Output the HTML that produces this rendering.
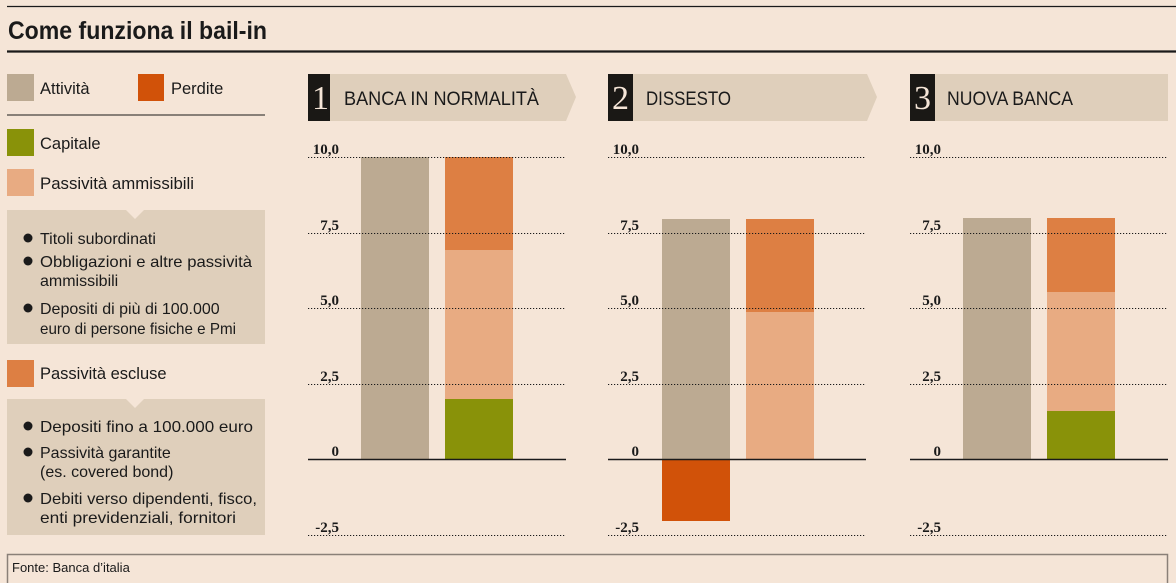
<!DOCTYPE html>
<html><head><meta charset="utf-8"><style>
html,body{margin:0;padding:0;background:#f5e5d7;}
svg{display:block;}
text{font-family:"Liberation Sans",sans-serif;fill:#1a1a1a;}
.num text{font-family:"Liberation Serif",serif;font-size:15px;font-weight:bold;}
text.big{font-family:"Liberation Serif",serif;font-size:34px;fill:#f5e5d7;}
</style></head><body>
<svg width="1176" height="583" viewBox="0 0 1176 583">
<rect width="1176" height="583" fill="#f5e5d7"/>
<line x1="7" y1="6.5" x2="1176" y2="6.5" stroke="#1a1a1a" stroke-width="1.3"/>
<text x="8" y="39" font-size="25" font-weight="bold" textLength="259" lengthAdjust="spacingAndGlyphs">Come funziona il bail-in</text>
<line x1="7" y1="51.5" x2="1176" y2="51.5" stroke="#1a1a1a" stroke-width="2.2"/>

<!-- legend -->
<rect x="7" y="74" width="27" height="27" fill="#bcaa92"/>
<text x="40" y="94" font-size="16.5">Attività</text>
<rect x="138" y="74" width="26" height="27" fill="#d15209"/>
<text x="171" y="94" font-size="16.5">Perdite</text>
<line x1="7" y1="115" x2="265" y2="115" stroke="#1a1a1a" stroke-width="1"/>
<rect x="7" y="129" width="27" height="27" fill="#899209"/>
<text x="40" y="149" font-size="16.5">Capitale</text>
<rect x="7" y="169" width="27" height="27" fill="#e8ab82"/>
<text x="40" y="189" font-size="16.5" textLength="154" lengthAdjust="spacingAndGlyphs">Passività ammissibili</text>
<rect x="7" y="210" width="258" height="134" fill="#dfcfbb"/>
<polygon points="126,210 144,210 135,219" fill="#f5e5d7"/>
<g font-size="16">
<circle cx="28" cy="238" r="4.5" fill="#1a1a1a"/><text x="40" y="244">Titoli subordinati</text>
<circle cx="28" cy="261" r="4.5" fill="#1a1a1a"/><text x="40" y="267" textLength="212" lengthAdjust="spacingAndGlyphs">Obbligazioni e altre passività</text>
<text x="40" y="286">ammissibili</text>
<circle cx="28" cy="308" r="4.5" fill="#1a1a1a"/><text x="40" y="314">Depositi di più di 100.000</text>
<text x="40" y="334" textLength="196" lengthAdjust="spacingAndGlyphs">euro di persone fisiche e Pmi</text>
</g>
<rect x="7" y="360" width="27" height="27" fill="#dd7f43"/>
<text x="40" y="379" font-size="16.5">Passività escluse</text>
<rect x="7" y="399" width="258" height="136" fill="#dfcfbb"/>
<polygon points="126,399 144,399 135,408" fill="#f5e5d7"/>
<g font-size="16">
<circle cx="28" cy="426" r="4.5" fill="#1a1a1a"/><text x="40" y="432" textLength="213" lengthAdjust="spacingAndGlyphs">Depositi fino a 100.000 euro</text>
<circle cx="28" cy="452" r="4.5" fill="#1a1a1a"/><text x="40" y="458">Passività garantite</text>
<text x="40" y="477">(es. covered bond)</text>
<circle cx="28" cy="498" r="4.5" fill="#1a1a1a"/><text x="40" y="504" textLength="217" lengthAdjust="spacingAndGlyphs">Debiti verso dipendenti, fisco,</text>
<text x="40" y="523" textLength="196" lengthAdjust="spacingAndGlyphs">enti previdenziali, fornitori</text>
</g>

<!-- footer -->
<rect x="7.5" y="554.5" width="1160" height="30" fill="none" stroke="#8a8078" stroke-width="1.5"/>
<text x="12" y="572" font-size="13">Fonte: Banca d’italia</text>

<!-- panel headers -->
<polygon points="308,74 566,74 576,97 566,121 308,121" fill="#dfcfbb"/>
<rect x="308" y="74" width="22" height="47" fill="#1a1815"/>
<text class="big" x="312" y="109">1</text>
<text x="344" y="105" font-size="19" textLength="195" lengthAdjust="spacingAndGlyphs">BANCA IN NORMALITÀ</text>
<polygon points="608,74 867,74 877,97 867,121 608,121" fill="#dfcfbb"/>
<rect x="608" y="74" width="25" height="47" fill="#1a1815"/>
<text class="big" x="612" y="109">2</text>
<text x="646" y="105" font-size="19" textLength="85" lengthAdjust="spacingAndGlyphs">DISSESTO</text>
<rect x="910" y="74" width="258" height="47" fill="#dfcfbb"/>
<rect x="910" y="74" width="25" height="47" fill="#1a1815"/>
<text class="big" x="914" y="109">3</text>
<text x="947" y="105" font-size="19" textLength="126" lengthAdjust="spacingAndGlyphs">NUOVA BANCA</text>

<!-- bars panel 1 -->
<rect x="361" y="157" width="68" height="302" fill="#bcaa92"/>
<rect x="445" y="157" width="68" height="93" fill="#dd7f43"/>
<rect x="445" y="250" width="68" height="149" fill="#e8ab82"/>
<rect x="445" y="399" width="68" height="60" fill="#899209"/>
<!-- panel 2 -->
<rect x="662" y="219" width="68" height="240" fill="#bcaa92"/>
<rect x="662" y="459" width="68" height="62" fill="#d15209"/>
<rect x="746" y="219" width="68" height="93" fill="#dd7f43"/>
<rect x="746" y="312" width="68" height="147" fill="#e8ab82"/>
<!-- panel 3 -->
<rect x="963" y="218" width="68" height="241" fill="#bcaa92"/>
<rect x="1047" y="218" width="68" height="74" fill="#dd7f43"/>
<rect x="1047" y="292" width="68" height="119" fill="#e8ab82"/>
<rect x="1047" y="411" width="68" height="48" fill="#899209"/>

<!-- gridlines & labels -->
<g stroke="#1a1a1a" stroke-width="1" stroke-dasharray="1.2,1.8">
<line x1="308" y1="157.5" x2="566" y2="157.5"/><line x1="308" y1="233.5" x2="566" y2="233.5"/><line x1="308" y1="308.5" x2="566" y2="308.5"/><line x1="308" y1="384.5" x2="566" y2="384.5"/><line x1="308" y1="535.5" x2="566" y2="535.5"/>
<line x1="608" y1="157.5" x2="866" y2="157.5"/><line x1="608" y1="233.5" x2="866" y2="233.5"/><line x1="608" y1="308.5" x2="866" y2="308.5"/><line x1="608" y1="384.5" x2="866" y2="384.5"/><line x1="608" y1="535.5" x2="866" y2="535.5"/>
<line x1="910" y1="157.5" x2="1168" y2="157.5"/><line x1="910" y1="233.5" x2="1168" y2="233.5"/><line x1="910" y1="308.5" x2="1168" y2="308.5"/><line x1="910" y1="384.5" x2="1168" y2="384.5"/><line x1="910" y1="535.5" x2="1168" y2="535.5"/>
</g>
<g stroke="#1a1a1a" stroke-width="1.5">
<line x1="308" y1="459.5" x2="566" y2="459.5"/><line x1="608" y1="459.5" x2="866" y2="459.5"/><line x1="910" y1="459.5" x2="1168" y2="459.5"/>
</g>
<g class="num" text-anchor="end">
<text x="339" y="154">10,0</text><text x="339" y="230">7,5</text><text x="339" y="305">5,0</text><text x="339" y="381">2,5</text><text x="339" y="456">0</text><text x="339" y="532">-2,5</text>
<text x="639" y="154">10,0</text><text x="639" y="230">7,5</text><text x="639" y="305">5,0</text><text x="639" y="381">2,5</text><text x="639" y="456">0</text><text x="639" y="532">-2,5</text>
<text x="941" y="154">10,0</text><text x="941" y="230">7,5</text><text x="941" y="305">5,0</text><text x="941" y="381">2,5</text><text x="941" y="456">0</text><text x="941" y="532">-2,5</text>
</g>
</svg>
</body></html>
